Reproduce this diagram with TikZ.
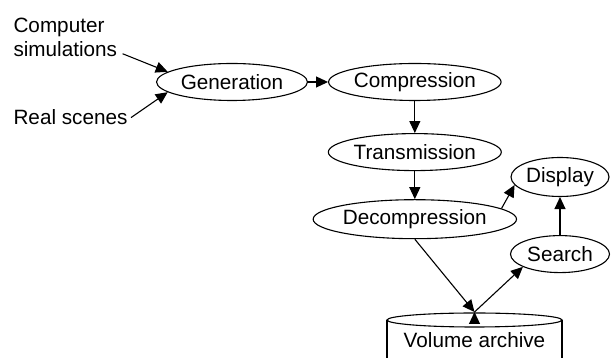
\documentclass[tikz,border=0pt]{standalone}
\usepackage{fontspec}
\setmainfont{Liberation Sans}
\usetikzlibrary{shapes.geometric, arrows.meta, positioning, calc}

\tikzset{
    stage/.style={ellipse, draw, inner sep=0pt, minimum height=37pt},
    source/.style={inner sep=0pt, align=left},
}

\begin{document}
\begin{tikzpicture}[x=1pt, y=1pt, line width=1.1pt,
    >={Triangle[length=12pt,width=11pt]},
    font=\fontsize{20.7}{24}\selectfont]
    \useasboundingbox (0,0) rectangle (611,358);

    \node[source, anchor=north west] (sim) at (13,340) {Computer\\simulations};
    \node[source, anchor=base west] (real) at (13,233) {Real scenes};

    \node[stage, minimum width=151pt] (gen) at (232,276) {Generation};
    \node[stage, minimum width=153pt, right=20pt of gen] (comp) {Compression};
    \node[stage, minimum width=150pt, below=32pt of comp] (trans) {Transmission};
    \node[stage, minimum width=177pt, minimum height=39pt, below=28pt of trans] (decomp) {Decompression};
    \node[stage, minimum width=98pt, minimum height=39pt] (disp) at (560,181) {Display};
    \node[stage, minimum width=99pt, below=38pt of disp] (search) {Search};

    % volume archive drum
    \coordinate (drum) at (474.5,38);
    \coordinate (vol) at (474.5,46);
    \draw (drum) ellipse [x radius=87.5, y radius=7];
    \draw ([xshift=-87.5pt]drum) -- ++(0,-50)
          ([xshift=87.5pt]drum) -- ++(0,-50);
    \node[inner sep=0pt] (archive) at (474.5,17.5) {Volume archive};

    \draw[->]
        ([xshift=5pt,yshift=4pt]sim.south east) edge (gen.171)
        ([xshift=3pt]real.east) edge (gen.189)
        (gen) edge (comp)
        (comp) edge (trans)
        (trans) edge (decomp)
        (decomp.7) edge (disp.190)
        (search) edge (disp)
        (decomp.south) edge (vol)
        (vol) edge (search.199)
       ;
\end{tikzpicture}
\end{document}
